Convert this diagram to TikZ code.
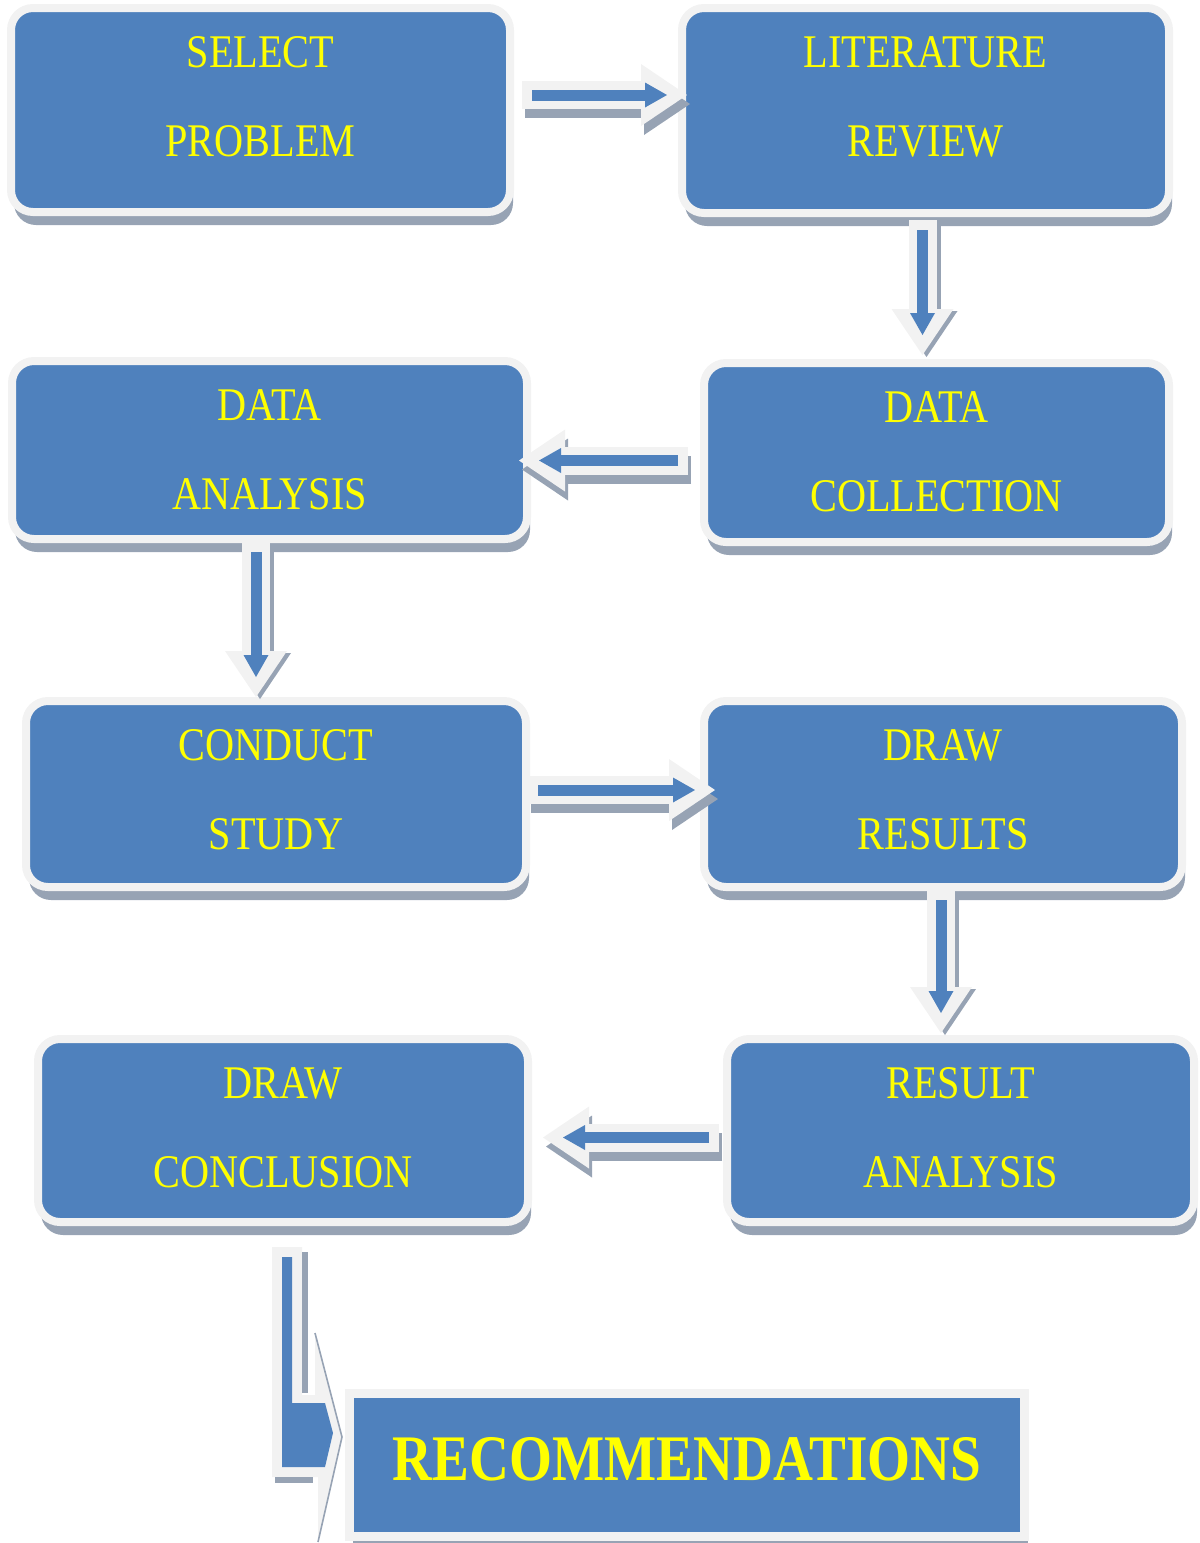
\documentclass[tikz,border=0pt]{standalone}
\usepackage{fontspec}
\setmainfont{Liberation Serif}
\newfontfamily\boxfont[FakeStretch=0.86]{Liberation Serif}
\newfontfamily\recfont[FakeStretch=0.85]{Liberation Serif}
\usetikzlibrary{arrows.meta,calc,shadows}
\definecolor{boxblue}{HTML}{4F81BD}
\definecolor{edgelight}{HTML}{F2F2F2}
\definecolor{shadegray}{HTML}{97A3B4}
\definecolor{textyellow}{HTML}{FFFF00}

\begin{document}
\begin{tikzpicture}[
  x=0.5pt,y=-0.5pt,
  box/.style={draw=edgelight,fill=boxblue,line width=4pt,rounded corners=11pt,
    inner sep=0pt,outer sep=0pt,
    drop shadow={shadow xshift=1.5pt,shadow yshift=-6.5pt,fill=shadegray,opacity=1}},
  boxtext/.style={text=textyellow,font={\boxfont\fontsize{23.4pt}{28pt}\selectfont},
    anchor=base,inner sep=0pt},
  recbox/.style={draw=edgelight,fill=boxblue,line width=4.5pt,inner sep=0pt,outer sep=0pt,
    minimum width=337.5pt,minimum height=71.5pt,text=textyellow,
    font={\recfont\bfseries\fontsize{32.5pt}{36pt}\selectfont},text depth=6.5pt,
    drop shadow={shadow xshift=1.5pt,shadow yshift=-3pt,fill=shadegray,opacity=1}},
  arrbody/.style={draw=edgelight,line width=14pt,
    -{Triangle[width=31pt,length=23pt,line width=0pt]}},
  arrshade/.style={arrbody,draw=shadegray},
  arrcore/.style={draw=boxblue,line width=5.5pt,shorten <=5pt,shorten >=10pt,
    -{Triangle[width=12.5pt,length=11pt,line width=0pt]}}
]
\useasboundingbox (0,0) rectangle (1200,1543);

% boxes
\node[box,minimum width=249.5pt,minimum height=102pt] (sel) at (260.5,110) {};
\node[box,minimum width=243.5pt,minimum height=102.5pt] (lit) at (925.5,110.5) {};
\node[box,minimum width=232.5pt,minimum height=89.5pt] (col) at (936.5,452.5) {};
\node[box,minimum width=257.5pt,minimum height=89pt] (ana) at (269.5,450) {};
\node[box,minimum width=250pt,minimum height=93pt] (con) at (276,794) {};
\node[box,minimum width=239pt,minimum height=93pt] (res) at (943,794) {};
\node[box,minimum width=245pt,minimum height=91.5pt] (dcl) at (283,1130.5) {};
\node[box,minimum width=233.5pt,minimum height=91.5pt] (ran) at (960.5,1130.5) {};
\node[recbox] (rec) at (687,1465) {RECOMMENDATIONS};

\foreach \n/\first/\second in {sel/SELECT/PROBLEM,lit/LITERATURE/REVIEW,
    col/DATA/COLLECTION,ana/DATA/ANALYSIS,con/CONDUCT/STUDY,
    res/DRAW/RESULTS,dcl/DRAW/CONCLUSION,ran/RESULT/ANALYSIS}{
  \node[boxtext] (\n-a) at ($(\n.north)+(0,59)$) {\first};
  \node[boxtext] (\n-b) at ($(\n.north)+(0,148)$) {\second};
}

% arrow ends
\coordinate (a1s) at ($(sel.east)+(12,-15)$);
\coordinate (a1e) at ($(lit.west)+(5,-15.5)$);
\coordinate (a2s) at ($(lit.south)+(-3,7)$);
\coordinate (a2e) at ($(lit.south |- col.north)+(-3,-8)$);
\coordinate (a3s) at ($(col.west)+(-16,8)$);
\coordinate (a3e) at ($(ana.east |- a3s)+(-8,0)$);
\coordinate (a4s) at ($(ana.south)+(-13.5,3)$);
\coordinate (a4e) at ($(ana.south |- con.north)+(-13.5,-4)$);
\coordinate (a5s) at ($(con.east)+(2,-4)$);
\coordinate (a5e) at ($(res.west |- a5s)+(11,0)$);
\coordinate (a6s) at ($(res.south)+(-2,3)$);
\coordinate (a6e) at ($(res.south |- ran.north)+(-2,-6)$);
\coordinate (a7s) at ($(ran.west)+(-8,7)$);
\coordinate (a7e) at ($(dcl.east |- a7s)+(15,0)$);

\foreach \s/\e/\dx/\dy in {a1s/a1e/3/9,a2s/a2e/4/2,a3s/a3e/3/9,a4s/a4e/4/2,
    a5s/a5e/3/9,a6s/a6e/4/2,a7s/a7e/3/9}{
  \draw[arrshade] ($(\s)+(\dx,\dy)$) -- ($(\e)+(\dx,\dy)$);
  \draw[arrbody] (\s) -- (\e);
  \draw[arrcore] (\s) -- (\e);
}

% bent arrow down to recommendations
\begin{scope}[shift={($(dcl.south)+(-11,25)$)}]
  \fill[edgelight] (0,0) -- (30,0) -- (30,148) -- (43,148) -- (43,86) -- (70,190)
    -- (46,295) -- (46,230) -- (0,230) -- cycle;
  \fill[shadegray] (30,5) rectangle (36,146);
  \fill[shadegray] (3,230) rectangle (41,236);
  \draw[shadegray,line width=0.8pt] (43,86) -- (70,190) -- (46,295);
  \fill[boxblue] (10,10) -- (20,10) -- (20,156) -- (53,156) -- (61,186) -- (53,220)
    -- (10,220) -- cycle;
\end{scope}
\end{tikzpicture}
\end{document}
